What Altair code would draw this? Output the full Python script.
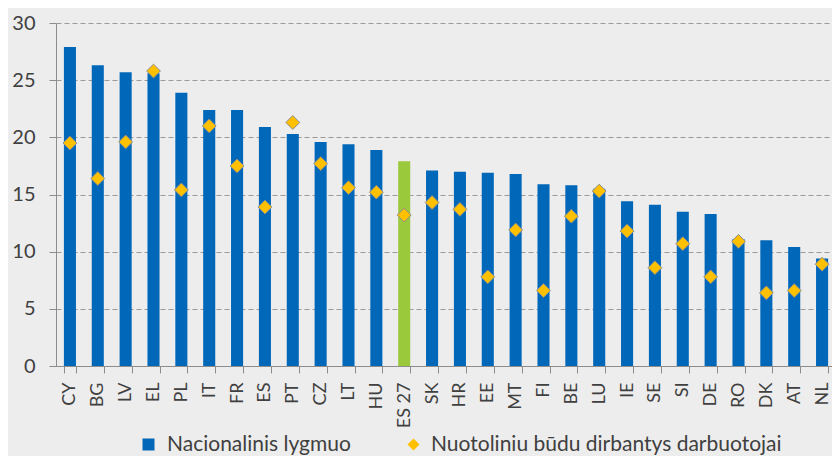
import altair as alt
import pandas as pd

countries = ["CY", "BG", "LV", "EL", "PL", "IT", "FR", "ES", "PT", "CZ", "LT", "HU", "ES 27",
             "SK", "HR", "EE", "MT", "FI", "BE", "LU", "IE", "SE", "SI", "DE", "RO", "DK", "AT", "NL"]
national = [27.9, 26.3, 25.7, 25.6, 23.9, 22.4, 22.4, 20.9, 20.3, 19.6, 19.4, 18.9, 17.9,
            17.1, 17.0, 16.9, 16.8, 15.9, 15.8, 15.5, 14.4, 14.1, 13.5, 13.3, 11.1, 11.0, 10.4, 9.4]
remote = [19.5, 16.4, 19.6, 25.8, 15.4, 21.0, 17.5, 13.9, 21.3, 17.7, 15.6, 15.2, 13.2,
          14.3, 13.7, 7.8, 11.9, 6.6, 13.1, 15.3, 11.8, 8.6, 10.7, 7.8, 10.9, 6.4, 6.6, 8.9]
y_ticks = [0, 5, 10, 15, 20, 25, 30]

label_nat = "Nacionalinis lygmuo"
label_rem = "Nuotoliniu būdu dirbantys darbuotojai"
label_eu = "ES 27"

df = pd.DataFrame({
    "country": countries,
    "national": national,
    "remote": remote,
    "grp": [label_eu if c == label_eu else label_nat for c in countries],
    "series": [label_rem] * len(countries),
})

FONT = "Lato"
TXT = "#404040"
AXC = "#8c8c8c"

x = alt.X(
    "country:N", sort=countries, title=None,
    scale=alt.Scale(paddingInner=0.567, paddingOuter=0.2835, range=[0, 780]),
    axis=alt.Axis(labelAngle=-90, labelFontSize=18, labelFont=FONT, labelColor=TXT,
                  tickBand="extent", tickSize=7, tickColor=AXC, domainColor=AXC,
                  labelPadding=9, grid=False, labelBaseline="middle", labelAlign="right"),
)
y = alt.Y(
    "national:Q", title=None,
    scale=alt.Scale(domain=[0, 30], nice=False),
    axis=alt.Axis(values=y_ticks, labelFontSize=20, labelFont=FONT, labelColor=TXT,
                  tickSize=7, tickColor=AXC, domainColor=AXC, labelPadding=14,
                  grid=True, gridColor="#9a9a9a", gridDash=[5, 3], gridWidth=1.2),
)

bars = alt.Chart(df).mark_bar().encode(
    x=x,
    y=y,
    color=alt.Color(
        "grp:N",
        scale=alt.Scale(domain=[label_nat, label_eu], range=["#0067B9", "#9BC93C"]),
        legend=alt.Legend(title=None, orient="none", legendX=82, legendY=411,
                          values=[label_nat], symbolType="square", symbolSize=144,
                          symbolStrokeWidth=0, labelFont=FONT, labelFontSize=21,
                          labelColor=TXT, labelOffset=8, padding=0, labelLimit=0),
    ),
)

points = alt.Chart(df).mark_point(
    filled=True, size=190, fill="#FFC000", stroke=AXC, strokeWidth=1, opacity=1
).encode(
    x=alt.X("country:N", sort=countries),
    y=alt.Y("remote:Q"),
    shape=alt.Shape(
        "series:N",
        scale=alt.Scale(domain=[label_rem], range=["diamond"]),
        legend=alt.Legend(title=None, orient="none", legendX=347, legendY=411,
                          symbolFillColor="#FFC000", symbolStrokeColor=AXC,
                          symbolStrokeWidth=1, symbolSize=144, labelFont=FONT,
                          labelFontSize=21, labelColor=TXT, labelOffset=7, padding=0,
                          labelLimit=0),
    ),
)

chart = alt.layer(bars, points).properties(
    width=776, height=343,
    autosize=alt.AutoSizeParams(type="none"),
    padding={"left": 48, "top": 15, "right": 0, "bottom": 90},
    background="#EDEDED",
).configure_view(stroke=None)

chart.save("out.html", embed_options={"renderer": "svg", "actions": False})
